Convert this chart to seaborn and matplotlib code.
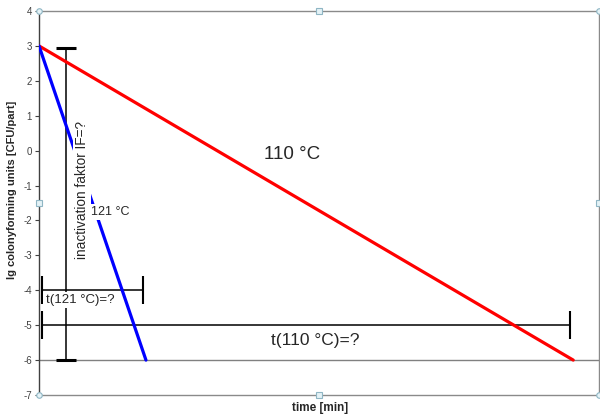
import pandas as pd
import matplotlib
matplotlib.use("Agg")
import matplotlib.pyplot as plt
import seaborn as sns

# lines: lg CFU vs time (time axis unitless, 0..100)
red_time = [0, 95.4]
red_lg = [3, -6]
blue_time = [0, 19.1]
blue_lg = [3, -6]

# measuring bars
if_bar_x = 4.8
if_bar_y = [-6, 2.95]
t121_x = [0.5, 18.6]
t121_y = -4
t110_x = [0.5, 94.8]
t110_y = -5

y_ticks = [4, 3, 2, 1, 0, -1, -2, -3, -4, -5, -6, -7]

df = pd.DataFrame({
    "time": red_time + blue_time,
    "lg": red_lg + blue_lg,
    "temp": ["110", "110", "121", "121"],
})

sns.set_style("white")
plt.rcParams["font.family"] = ["Liberation Sans", "DejaVu Sans"]
plt.rcParams["axes.unicode_minus"] = False

fig = plt.figure(figsize=(6, 4.18), dpi=100)
ax = fig.add_axes([39 / 600, 23 / 418, 560 / 600, 384 / 418])

sns.lineplot(data=df, x="time", y="lg", hue="temp",
             palette={"110": "#ff0000", "121": "#0000ff"},
             linewidth=2.3, legend=False, ax=ax, zorder=3)

# horizontal axis line at -6
ax.axhline(-6, color="#808080", lw=1, zorder=1)

# vertical bar (inactivation factor)
mid = (if_bar_y[0] + if_bar_y[1]) / 2
half = (if_bar_y[1] - if_bar_y[0]) / 2
ax.errorbar(if_bar_x, mid, yerr=half, fmt="none", ecolor="black",
            elinewidth=1.1, capsize=7.5, capthick=2.2, zorder=2)

# horizontal bars (times)
for xs, yv in [(t121_x, t121_y), (t110_x, t110_y)]:
    c = (xs[0] + xs[1]) / 2
    h = (xs[1] - xs[0]) / 2
    ax.errorbar(c, yv, xerr=h, fmt="none", ecolor="black",
                elinewidth=1.1, capsize=10, capthick=1.5, zorder=2)

box = dict(facecolor="white", edgecolor="none", pad=1.5)
ax.text(45.2, -0.12, "110 °C", fontsize=13.5, ha="center", va="center", zorder=5)
ax.text(49.3, -5.45, "t(110 °C)=?", fontsize=12.5, ha="center", va="center", zorder=5)
ax.text(7.3, -4.28, "t(121 °C)=?", fontsize=9.5, ha="center", va="center",
        bbox=box, zorder=5)
ax.text(12.7, -1.76, "121 °C", fontsize=9, ha="center", va="center",
        bbox=box, zorder=5)
ax.text(7.7, -1.13, "inactivation faktor IF=?", fontsize=9.8, rotation=90,
        ha="center", va="center", bbox=box, zorder=5)

ax.set_xlim(0, 100)
ax.set_ylim(-7, 4)
ax.set_yticks(y_ticks)
ax.set_xticks([])
ax.tick_params(axis="y", labelsize=7, labelcolor="#404040", length=3,
               width=0.8, color="#404040", direction="out", pad=2, left=True)

ax.set_ylabel("lg colonyforming units [CFU/part]", fontsize=8, fontweight="bold")
ax.yaxis.set_label_coords(-0.039, 0.534)
ax.set_xlabel("time [min]", fontsize=8.5, fontweight="bold")
ax.xaxis.set_label_coords(0.502, -0.018)

for side in ["top", "right", "bottom"]:
    ax.spines[side].set_color("#8a8a8a")
    ax.spines[side].set_linewidth(1)
ax.spines["left"].set_color("#404040")
ax.spines["left"].set_linewidth(1)

# selection handles of the chart object
for hx, hy, m in [(0, 0, "o"), (0, 1, "o"), (1, 0, "o"), (1, 1, "o"),
                  (0.5, 0, "s"), (0.5, 1, "s"), (0, 0.5, "s"), (1, 0.5, "s")]:
    ax.plot(hx, hy, marker=m, markersize=4, markerfacecolor="#e4f2f6",
            markeredgecolor="#8fb6c4", markeredgewidth=0.8,
            transform=ax.transAxes, clip_on=False, zorder=6)

fig.savefig("out.png", dpi=100)
